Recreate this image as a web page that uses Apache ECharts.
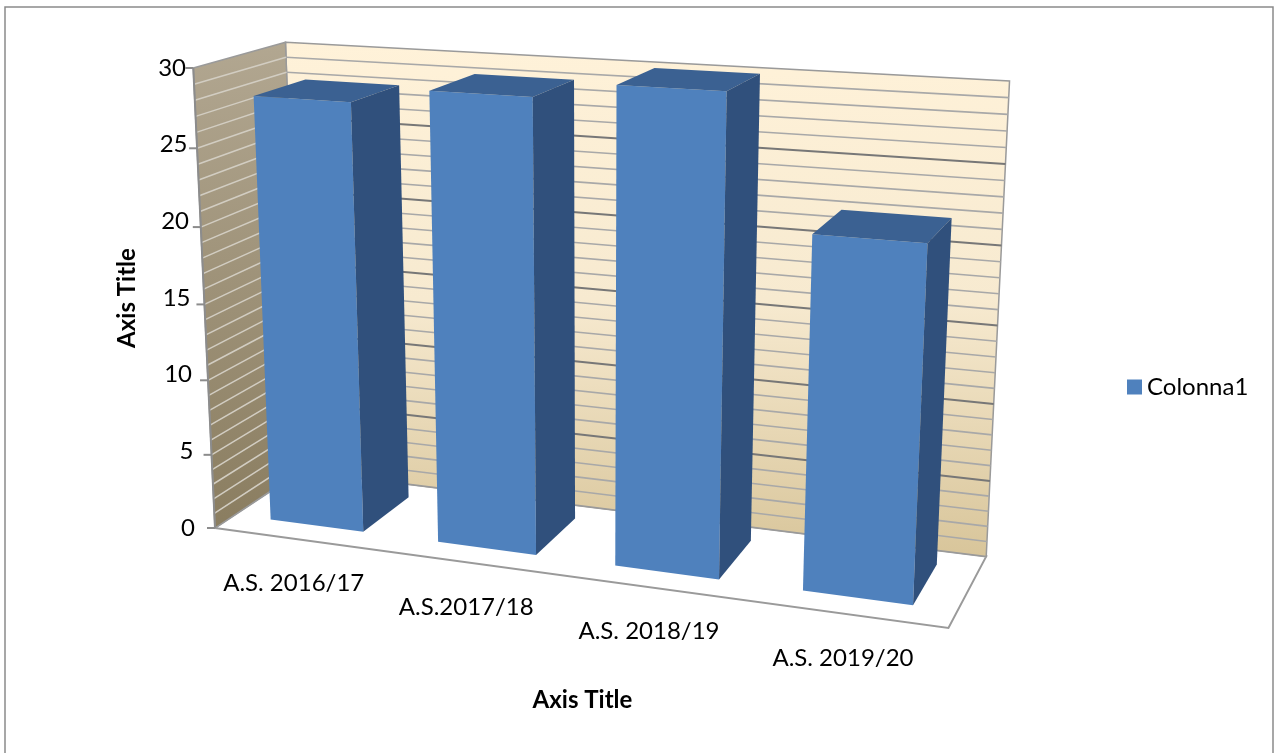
<!DOCTYPE html>
<html>
<head>
<meta charset="utf-8">
<script src="https://cdn.jsdelivr.net/npm/echarts/dist/echarts.min.js"></script>
<style>
  html, body { margin: 0; padding: 0; background: #ffffff; }
  #chart { width: 1275px; height: 753px; }
</style>
</head>
<body>
<div id="chart"></div>
<script>
// ---------------- data ----------------
const categories = ['A.S. 2016/17', 'A.S.2017/18', 'A.S. 2018/19', 'A.S. 2019/20'];
const values = [28, 29, 30, 22];
const yTicks = [0, 5, 10, 15, 20, 25, 30];
const yMinorStep = 1;
const seriesName = 'Colonna1';
const xAxisTitle = 'Axis Title';
const yAxisTitle = 'Axis Title';

// ---------------- view / style ----------------
const VIEW = { yaw: 20, pitch: 15, dist: 2100, depth: 185, barFront: 0.22, barBack: 0.80, barFrac: 0.56 };
const FONT = 'Lato, sans-serif';
const COLORS = {
  front: '#4F81BD', top: '#3B6192', side: '#30507C',
  edge: '#8c8c8c', majorGrid: '#777777', minorGrid: '#a8a8a8', leftGrid: '#d2cdc2'
};

// perspective projection of the grid's pixel space (x, y from the axes) plus a depth coordinate
function projector(cs) {
  const th = VIEW.yaw * Math.PI / 180, ph = VIEW.pitch * Math.PI / 180;
  const ct = Math.cos(th), st = Math.sin(th), cp = Math.cos(ph), sp = Math.sin(ph);
  const Xc = cs.x + cs.width / 2, Yc = cs.y + cs.height / 2, Zc = VIEW.depth / 2, L = VIEW.dist;
  function raw(X, Y, Z) {
    const px = X - Xc, py = Yc - Y, pz = Z - Zc;
    const x1 = px * ct + pz * st;
    const z1 = -px * st + pz * ct;
    const y2 = -py * cp - z1 * sp;
    const z2 = -py * sp + z1 * cp + L;
    return [L * x1 / z2, L * y2 / z2];
  }
  // anchor: front-left-bottom corner and front-left-top height follow the axes
  const a = raw(cs.x, cs.y + cs.height, 0);
  const b = raw(cs.x, cs.y, 0);
  const s = cs.height / (a[1] - b[1]);
  const tx = cs.x - s * a[0], ty = cs.y + cs.height - s * a[1];
  return function (X, Y, Z) {
    const r = raw(X, Y, Z);
    return [tx + s * r[0], ty + s * r[1]];
  };
}

function poly(pts, style) { return { type: 'polygon', shape: { points: pts }, style: style }; }
function seg(p, q, style) { return { type: 'line', shape: { x1: p[0], y1: p[1], x2: q[0], y2: q[1] }, style: style }; }

function renderWalls(params, api) {
  const cs = params.coordSys;
  const P = projector(cs);
  const D = VIEW.depth;
  const xL = cs.x, xR = cs.x + cs.width;
  const vMin = yTicks[0], vMax = yTicks[yTicks.length - 1];
  const yB = api.coord([0, vMin])[1];
  const yT = api.coord([0, vMax])[1];
  const ch = [];
  // floor
  ch.push(poly([P(xL, yB, 0), P(xR, yB, 0), P(xR, yB, D), P(xL, yB, D)],
    { fill: '#ffffff', stroke: '#9a9a9a', lineWidth: 2 }));
  // back wall
  ch.push(poly([P(xL, yT, D), P(xR, yT, D), P(xR, yB, D), P(xL, yB, D)], {
    fill: new echarts.graphic.LinearGradient(0, 0, 0, 1, [
      { offset: 0, color: '#FFF2D9' }, { offset: 0.5, color: '#F7EAD0' }, { offset: 1, color: '#D8C59A' }]),
    stroke: '#9a9a9a', lineWidth: 1.5
  }));
  // left wall
  ch.push(poly([P(xL, yT, 0), P(xL, yT, D), P(xL, yB, D), P(xL, yB, 0)], {
    fill: new echarts.graphic.LinearGradient(0, 0, 0, 1, [
      { offset: 0, color: '#B2A791' }, { offset: 1, color: '#8A7D60' }]),
    stroke: '#9a9a9a', lineWidth: 1.5
  }));
  // grid lines (every unit, darker at labelled ticks)
  for (let v = vMin + yMinorStep; v < vMax; v += yMinorStep) {
    const major = yTicks.indexOf(v) >= 0;
    const y = api.coord([0, v])[1];
    ch.push(seg(P(xL, y, D), P(xR, y, D), { stroke: major ? COLORS.majorGrid : COLORS.minorGrid, lineWidth: major ? 2 : 1.6 }));
    ch.push(seg(P(xL, y, 0), P(xL, y, D), { stroke: COLORS.leftGrid, lineWidth: 1.5 }));
  }
  // front-left edge (value axis line) with ticks
  ch.push(seg(P(xL, yB, 0), P(xL, yT, 0), { stroke: COLORS.edge, lineWidth: 2 }));
  yTicks.forEach(function (v) {
    const p = P(xL, api.coord([0, v])[1], 0);
    ch.push(seg([p[0] - 8, p[1]], p, { stroke: COLORS.edge, lineWidth: 2 }));
  });
  return { type: 'group', children: ch };
}

function renderBar(params, api) {
  const cs = params.coordSys;
  const P = projector(cs);
  const D = VIEW.depth;
  const i = api.value(0), v = api.value(1);
  const topPt = api.coord([i, v]);
  const basePt = api.coord([i, 0]);
  const hw = api.size([1, 0])[0] * VIEW.barFrac / 2;
  const x0 = topPt[0] - hw, x1 = topPt[0] + hw;
  const z0 = VIEW.barFront * D, z1 = VIEW.barBack * D;
  const yt = topPt[1], yb = basePt[1];
  const ch = [];
  ch.push(poly([P(x0, yt, z0), P(x1, yt, z0), P(x1, yb, z0), P(x0, yb, z0)], { fill: COLORS.front }));
  ch.push(poly([P(x0, yt, z0), P(x0, yt, z1), P(x1, yt, z1), P(x1, yt, z0)], { fill: COLORS.top }));
  ch.push(poly([P(x1, yt, z0), P(x1, yt, z1), P(x1, yb, z1), P(x1, yb, z0)], { fill: COLORS.side }));
  // category label under the floor's front edge
  const lp = P(topPt[0], yb, 0);
  ch.push({
    type: 'text', x: lp[0] - 4, y: lp[1] + 44,
    style: { text: categories[i], fill: '#000000', fontSize: 24, fontFamily: FONT, align: 'center', verticalAlign: 'middle' }
  });
  return { type: 'group', children: ch };
}

// value labels follow the slanted front edge: a little more right padding higher up
const yRich = {};
yTicks.forEach(function (v) {
  yRich['p' + v] = { fontSize: 24, fontFamily: FONT, color: '#000000', padding: [0, 9 * v / yTicks[yTicks.length - 1], 0, 0] };
});

const chart = echarts.init(document.getElementById('chart'), null, { renderer: 'canvas' });
chart.setOption({
  animation: false,
  backgroundColor: '#ffffff',
  graphic: [{
    type: 'rect', silent: true, z: 100,
    shape: { x: 5, y: 7, width: 1268, height: 780 },
    style: { fill: 'none', stroke: '#8a8a8a', lineWidth: 1.5 }
  }],
  legend: {
    data: [seriesName], orient: 'vertical', left: 1122, top: 370,
    icon: 'rect', itemWidth: 15, itemHeight: 15,
    textStyle: { fontSize: 24, fontFamily: FONT, color: '#000000' }
  },
  grid: { left: 215, top: 68, width: 735, height: 460, containLabel: false },
  xAxis: {
    type: 'category', data: categories,
    axisLine: { show: false }, axisTick: { show: false }, axisLabel: { show: false }, splitLine: { show: false },
    name: xAxisTitle, nameLocation: 'middle', nameGap: 160,
    nameTextStyle: { fontSize: 24, fontWeight: 'bold', fontFamily: FONT, color: '#000000' }
  },
  yAxis: {
    type: 'value', min: yTicks[0], max: yTicks[yTicks.length - 1], interval: yTicks[1] - yTicks[0],
    axisLine: { show: false }, axisTick: { show: false }, splitLine: { show: false },
    axisLabel: {
      fontSize: 24, fontFamily: FONT, color: '#000000', margin: 20,
      formatter: function (v) { return '{p' + v + '|' + v + '}'; }, rich: yRich
    },
    name: yAxisTitle, nameLocation: 'middle', nameGap: 76, nameRotate: 90,
    nameTextStyle: { fontSize: 24, fontWeight: 'bold', fontFamily: FONT, color: '#000000' }
  },
  series: [
    { type: 'custom', silent: true, z: 1, renderItem: renderWalls, data: [[0, 0]], clip: false },
    {
      type: 'custom', name: seriesName, z: 2, renderItem: renderBar, clip: false,
      itemStyle: { color: COLORS.front },
      encode: { x: 0, y: 1 },
      data: values.map(function (v, i) { return [i, v]; })
    }
  ]
});
</script>
</body>
</html>
